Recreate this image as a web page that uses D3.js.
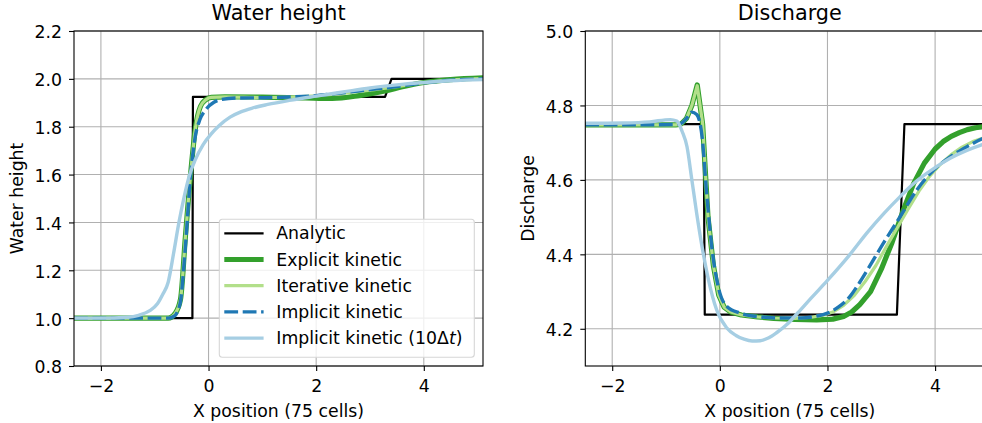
<!DOCTYPE html>
<html>
<head>
<meta charset="utf-8">
<script src="https://cdn.jsdelivr.net/npm/d3@7"></script>
<style>
  body { margin: 0; background: #fff; }
  svg { display: block; font-family: "DejaVu Sans", sans-serif; }
</style>
</head>
<body>
<div id="chart"></div>
<script>
// #region Data
const xTicks = [-2, 0, 2, 4];
const heightTicks = [0.8, 1.0, 1.2, 1.4, 1.6, 1.8, 2.0, 2.2];
const dischargeTicks = [4.2, 4.4, 4.6, 4.8, 5.0];
const seriesNames = ['Analytic', 'Explicit kinetic', 'Iterative kinetic', 'Implicit kinetic', 'Implicit kinetic (10Δt)'];

// water height
const hAnalyticX = [-2.5, -0.30, -0.29, 3.28, 3.40, 5.1];
const hAnalytic = [1.0, 1.0, 1.925, 1.925, 2.0, 2.0];

const hExplicitX = [-2.5, -1.5, -0.75, -0.62, -0.52, -0.43, -0.33, -0.24, -0.15, -0.05, 0.05, 0.3, 1.0, 1.8, 2.3, 2.8, 3.3, 3.6, 4.0, 4.5, 5.1];
const hExplicit = [1.0, 1.0, 1.0, 1.02, 1.08, 1.34, 1.61, 1.80, 1.885, 1.913, 1.923, 1.925, 1.924, 1.92, 1.918, 1.93, 1.95, 1.967, 1.985, 1.997, 2.004];

const hIterativeX = [-2.5, -1.5, -0.75, -0.62, -0.52, -0.43, -0.33, -0.24, -0.15, -0.05, 0.05, 0.3, 1.0, 1.5, 2.0, 2.5, 3.0, 3.5, 4.0, 4.5, 5.1];
const hIterative = [1.0, 1.0, 1.0, 1.02, 1.08, 1.34, 1.61, 1.80, 1.885, 1.913, 1.923, 1.925, 1.922, 1.924, 1.929, 1.94, 1.953, 1.967, 1.984, 1.995, 2.001];

const hImplicitX = [-2.5, -1.5, -0.75, -0.64, -0.53, -0.43, -0.34, -0.25, -0.16, -0.05, 0.1, 0.25, 0.5, 1.0, 1.5, 2.0, 2.5, 3.0, 3.5, 4.0, 4.5, 5.1];
const hImplicit = [1.0, 1.0, 1.0, 1.008, 1.06, 1.30, 1.58, 1.755, 1.83, 1.872, 1.902, 1.914, 1.92, 1.921, 1.924, 1.93, 1.942, 1.955, 1.968, 1.983, 1.994, 2.0];

const hImplicit10X = [-2.5, -2.0, -1.5, -1.3, -1.1, -0.95, -0.85, -0.75, -0.65, -0.55, -0.45, -0.35, -0.25, -0.1, 0.05, 0.2, 0.4, 0.6, 0.8, 1.1, 1.5, 2.0, 2.5, 3.0, 3.5, 4.0, 4.5, 5.1];
const hImplicit10 = [1.0, 1.0, 1.004, 1.012, 1.03, 1.06, 1.10, 1.15, 1.27, 1.40, 1.51, 1.60, 1.66, 1.725, 1.77, 1.805, 1.84, 1.862, 1.877, 1.893, 1.91, 1.928, 1.945, 1.962, 1.975, 1.985, 1.992, 1.997];

// discharge
const qAnalyticX = [-2.5, -0.30, -0.28, 3.29, 3.43, 5.1];
const qAnalytic = [4.75, 4.75, 4.238, 4.238, 4.75, 4.75];

const qExplicitX = [-2.5, -1.5, -0.82, -0.72, -0.62, -0.52, -0.42, -0.32, -0.22, -0.12, -0.02, 0.08, 0.2, 0.4, 0.7, 1.0, 1.4, 1.8, 2.1, 2.3, 2.45, 2.6, 2.8, 3.0, 3.2, 3.4, 3.6, 3.8, 4.0, 4.15, 4.3, 4.45, 4.6, 4.75, 4.9, 5.1];
const qExplicit = [4.748, 4.748, 4.748, 4.75, 4.765, 4.80, 4.855, 4.75, 4.50, 4.37, 4.29, 4.258, 4.245, 4.237, 4.232, 4.228, 4.225, 4.224, 4.226, 4.233, 4.245, 4.265, 4.30, 4.36, 4.432, 4.515, 4.59, 4.645, 4.683, 4.703, 4.717, 4.727, 4.735, 4.74, 4.743, 4.746];

const qIterativeX = [-2.5, -1.5, -0.82, -0.72, -0.62, -0.52, -0.42, -0.32, -0.22, -0.12, -0.02, 0.08, 0.2, 0.4, 0.7, 1.0, 1.4, 1.7, 1.9, 2.1, 2.3, 2.5, 2.7, 2.9, 3.1, 3.3, 3.5, 3.7, 3.9, 4.1, 4.3, 4.5, 4.7, 4.9, 5.1];
const qIterative = [4.748, 4.748, 4.748, 4.75, 4.765, 4.80, 4.853, 4.752, 4.50, 4.37, 4.29, 4.258, 4.245, 4.237, 4.232, 4.229, 4.228, 4.231, 4.236, 4.245, 4.263, 4.29, 4.327, 4.37, 4.422, 4.472, 4.522, 4.57, 4.61, 4.642, 4.668, 4.688, 4.703, 4.713, 4.72];

const qImplicitX = [-2.5, -1.5, -0.85, -0.72, -0.62, -0.52, -0.43, -0.33, -0.24, -0.15, -0.03, 0.13, 0.38, 0.75, 1.1, 1.5, 1.8, 2.0, 2.2, 2.42, 2.6, 2.75, 3.04, 3.35, 3.66, 3.97, 4.28, 4.6, 4.9, 5.1];
const qImplicit = [4.748, 4.748, 4.749, 4.752, 4.765, 4.782, 4.776, 4.716, 4.555, 4.42, 4.313, 4.26, 4.242, 4.232, 4.229, 4.229, 4.234, 4.242, 4.258, 4.287, 4.325, 4.36, 4.43, 4.501, 4.573, 4.626, 4.662, 4.69, 4.712, 4.722];

const qImplicit10X = [-2.5, -1.8, -1.3, -0.92, -0.8, -0.7, -0.61, -0.52, -0.43, -0.33, -0.21, -0.06, 0.13, 0.3, 0.45, 0.6, 0.75, 0.9, 1.06, 1.25, 1.45, 1.7, 2.0, 2.42, 2.73, 3.05, 3.35, 3.6, 3.85, 4.0, 4.28, 4.6, 4.84, 5.1];
const qImplicit10 = [4.752, 4.753, 4.756, 4.762, 4.758, 4.73, 4.689, 4.60, 4.51, 4.42, 4.331, 4.251, 4.202, 4.182, 4.172, 4.167, 4.168, 4.175, 4.19, 4.212, 4.243, 4.283, 4.33, 4.40, 4.457, 4.51, 4.555, 4.59, 4.618, 4.633, 4.658, 4.68, 4.693, 4.703];
// #endregion

// #region Shared layout
const width = 982, height = 423;
const panelTop = 31, panelWidth = 409, panelHeight = 335;
const xDomain = [-2.5, 5.1];
const fontSize = 17.3;

const styles = [
  { color: '#000000', width: 2.2, dash: null },
  { color: '#33a02c', width: 5.2, dash: null },
  { color: '#b2df8a', width: 3.2, dash: null },
  { color: '#1f78b4', width: 3.4, dash: '13.8,4.6' },
  { color: '#a6cee3', width: 3.4, dash: null },
];

const svg = d3.select('#chart').append('svg')
  .attr('width', width)
  .attr('height', height);
// #endregion

function zip(xs, ys) {
  return xs.map((v, i) => [v, ys[i]]);
}

function drawPanel(cfg) {
  const g = svg.append('g').attr('transform', `translate(${cfg.left},${panelTop})`);
  const x = d3.scaleLinear().domain(xDomain).range([0, panelWidth]);
  const y = d3.scaleLinear().domain(cfg.yDomain).range([panelHeight, 0]);

  // grid
  g.append('g').selectAll('line')
    .data(xTicks).enter().append('line')
    .attr('x1', d => x(d)).attr('x2', d => x(d))
    .attr('y1', 0).attr('y2', panelHeight)
    .attr('stroke', '#b0b0b0').attr('stroke-width', 1.1);
  g.append('g').selectAll('line')
    .data(cfg.yTicks).enter().append('line')
    .attr('x1', 0).attr('x2', panelWidth)
    .attr('y1', d => y(d)).attr('y2', d => y(d))
    .attr('stroke', '#b0b0b0').attr('stroke-width', 1.1);

  // curves
  const clipId = 'clip-' + cfg.key;
  g.append('clipPath').attr('id', clipId)
    .append('rect').attr('width', panelWidth).attr('height', panelHeight);
  const lines = g.append('g').attr('clip-path', `url(#${clipId})`);
  cfg.series.forEach((s, i) => {
    const st = styles[i];
    // analytic and the spiky explicit/iterative discharge stay piecewise linear
    const curve = (i === 0 || cfg.linear.includes(i)) ? d3.curveLinear : d3.curveMonotoneX;
    lines.append('path')
      .datum(zip(s[0], s[1]))
      .attr('d', d3.line().x(d => x(d[0])).y(d => y(d[1])).curve(curve))
      .attr('fill', 'none')
      .attr('stroke', st.color)
      .attr('stroke-width', st.width)
      .attr('stroke-dasharray', st.dash)
      .attr('stroke-linejoin', 'round');
  });

  // axes
  const xAxis = g.append('g')
    .attr('transform', `translate(0,${panelHeight})`)
    .call(d3.axisBottom(x).tickValues(xTicks).tickFormat(d3.format('d'))
      .tickSize(5).tickPadding(8.5));
  const yAxis = g.append('g')
    .call(d3.axisLeft(y).tickValues(cfg.yTicks).tickFormat(d3.format('.1f'))
      .tickSize(5).tickPadding(7));
  [xAxis, yAxis].forEach(a => {
    a.select('.domain').remove();
    a.attr('font-family', null).attr('font-size', fontSize);
    a.selectAll('line').attr('stroke', '#000').attr('stroke-width', 1.1);
    a.selectAll('text').attr('fill', '#000');
  });
  yAxis.selectAll('text').attr('dy', '0.4em');

  // spines
  g.append('rect')
    .attr('width', panelWidth).attr('height', panelHeight)
    .attr('fill', 'none').attr('stroke', '#000').attr('stroke-width', 1.1);

  // labels
  g.append('text')
    .attr('x', panelWidth / 2).attr('y', 20 - panelTop)
    .attr('text-anchor', 'middle').attr('font-size', fontSize * 1.2)
    .text(cfg.title);
  g.append('text')
    .attr('x', panelWidth / 2).attr('y', 416.5 - panelTop)
    .attr('text-anchor', 'middle').attr('font-size', fontSize)
    .text('X position (75 cells)');
  g.append('text')
    .attr('transform', `translate(-51,${panelHeight / 2}) rotate(-90)`)
    .attr('text-anchor', 'middle').attr('font-size', fontSize)
    .text(cfg.ylabel);

  return g;
}

// #region Panels
const left = drawPanel({
  key: 'h', left: 74, title: 'Water height', ylabel: 'Water height',
  yDomain: [0.8, 2.2], yTicks: heightTicks, linear: [],
  series: [
    [hAnalyticX, hAnalytic], [hExplicitX, hExplicit], [hIterativeX, hIterative],
    [hImplicitX, hImplicit], [hImplicit10X, hImplicit10],
  ],
});

drawPanel({
  key: 'q', left: 585.3, title: 'Discharge', ylabel: 'Discharge',
  yDomain: [4.1, 5.0], yTicks: dischargeTicks, linear: [1, 2],
  series: [
    [qAnalyticX, qAnalytic], [qExplicitX, qExplicit], [qIterativeX, qIterative],
    [qImplicitX, qImplicit], [qImplicit10X, qImplicit10],
  ],
});
// #endregion

// #region Legend (lower right of the water height panel)
const legendW = 255, legendH = 138, legendPad = 8.7;
const legend = left.append('g')
  .attr('transform', `translate(${panelWidth - legendPad - legendW},${panelHeight - legendPad - legendH})`);
legend.append('rect')
  .attr('width', legendW).attr('height', legendH).attr('rx', 3)
  .attr('fill', '#fff').attr('fill-opacity', 0.8)
  .attr('stroke', '#d6d6d6').attr('stroke-width', 1.1);
seriesNames.forEach((name, i) => {
  const st = styles[i];
  const row = legend.append('g').attr('transform', `translate(0,${14 + i * 26.2})`);
  row.append('line')
    .attr('x1', 5).attr('x2', 44.3)
    .attr('stroke', st.color).attr('stroke-width', st.width)
    .attr('stroke-dasharray', st.dash);
  const t = row.append('text').attr('x', 57).attr('dy', '0.35em').attr('font-size', fontSize);
  if (name.endsWith('Δt)')) {
    t.append('tspan').text(name.slice(0, -2));
    t.append('tspan').attr('font-style', 'italic').text('t');
    t.append('tspan').text(')');
  } else {
    t.text(name);
  }
});
// #endregion
</script>
</body>
</html>
